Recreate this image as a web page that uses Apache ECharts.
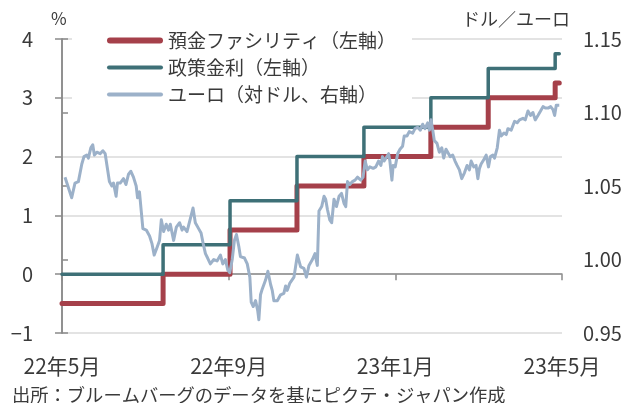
<!DOCTYPE html>
<html>
<head>
<meta charset="utf-8">
<script src="https://cdn.jsdelivr.net/npm/echarts@6/dist/echarts.min.js"></script>
<style>
html,body{margin:0;padding:0;background:#fff;}
#chart{width:628px;height:403px;}
</style>
</head>
<body>
<div id="chart"></div>
<script>
// ---- data ----
// x values are day numbers counted from 2022-05-14 (day 0) to 2023-05-15 (day 366)
const xTickLabels = ['22年5月', '22年9月', '23年1月', '23年5月'];
const seriesNames = ['預金ファシリティ（左軸）', '政策金利（左軸）', 'ユーロ（対ドル、右軸）'];
const leftTicks = [-1, 0, 1, 2, 3, 4];
const rightTicks = [0.95, 1.00, 1.05, 1.10, 1.15];

const rateDays = [0, 74, 123, 172, 221, 270, 312, 361, 364];
const depositRate = [-0.5, 0, 0.75, 1.5, 2.0, 2.5, 3.0, 3.25, 3.25];
const policyRate = [0, 0.5, 1.25, 2.0, 2.5, 3.0, 3.5, 3.75, 3.75];

const euroDays = [
  2.2,7.1,8.3,9.5,12.0,14.5,16.1,18.1,19.3,21.1,
  22.5,23.7,25.5,27.9,29.9,31.6,32.8,34.7,36.5,37.7,
  39.6,40.6,42.6,45.0,46.8,48.7,50.4,52.3,54.3,55.3,
  56.7,57.8,59.2,61.7,64.1,65.8,67.5,69.5,71.4,72.7,
  74.4,76.3,78.0,79.3,81.7,83.7,86.1,87.9,89.0,91.5,
  94.0,95.9,97.6,100.0,101.8,103.3,105.0,106.6,108.6,111.1,
  113.5,116.0,117.7,119.6,121.3,122.8,124.6,126.2,127.7,129.4,
  130.6,131.9,133.6,135.6,137.5,138.5,140.0,141.7,143.3,144.1,
  145.3,146.6,149.0,150.7,152.7,153.9,155.1,157.6,160.0,162.4,
  163.7,164.9,166.8,169.8,172.3,174.7,177.1,178.9,180.8,183.3,
  185.2,186.9,188.1,190.1,191.8,193.0,194.3,196.0,197.4,199.1,
  200.9,202.8,204.6,206.5,207.7,209.0,210.7,212.6,214.5,216.3,
  218.7,220.4,221.9,223.6,225.3,227.8,229.7,231.7,233.4,234.6,
  235.8,237.1,239.1,240.0,241.5,242.4,243.9,245.7,247.4,249.3,
  250.5,252.5,254.2,256.7,258.4,260.3,262.3,264.0,265.7,267.7,
  268.9,270.1,271.4,272.5,274.5,276.2,278.0,279.4,281.1,282.4,
  284.1,286.0,287.7,289.2,290.9,292.6,294.6,296.5,298.2,299.5,
  301.4,303.1,304.4,305.6,306.8,308.8,310.5,312.2,313.6,315.4,
  316.6,318.6,320.2,321.5,323.5,325.2,326.4,328.8,331.3,333.2,
  334.9,337.4,339.1,341.1,343.0,344.7,346.4,348.4,350.3,352.1,
  353.8,355.8,357.7,359.4,360.6,361.8,363.0,364.0
];
const euroValues = [
  1.056,1.042,1.043,1.052,1.053,1.065,1.070,1.071,1.069,1.076,
  1.078,1.071,1.073,1.072,1.074,1.072,1.073,1.053,1.050,1.052,
  1.043,1.052,1.052,1.055,1.051,1.058,1.060,1.056,1.050,1.042,
  1.046,1.045,1.021,1.020,1.016,1.011,1.003,1.008,1.013,1.027,
  1.019,1.024,1.020,1.024,1.013,1.022,1.025,1.020,1.022,1.019,
  1.028,1.035,1.025,1.021,1.018,1.011,1.004,1.001,0.997,1.000,
  0.999,1.003,0.997,1.000,0.993,0.991,1.000,1.013,1.017,1.009,
  1.002,1.001,1.001,0.997,0.988,0.971,0.968,0.972,0.965,0.959,
  0.976,0.980,0.986,0.992,0.983,0.979,0.972,0.972,0.976,0.977,
  0.982,0.979,0.984,0.988,1.003,0.995,0.994,0.988,0.996,1.000,
  1.004,0.996,1.033,1.036,1.043,1.041,1.034,1.027,1.025,1.041,
  1.036,1.043,1.045,1.038,1.036,1.053,1.051,1.053,1.054,1.056,
  1.054,1.056,1.067,1.061,1.063,1.062,1.063,1.067,1.064,1.070,
  1.067,1.068,1.072,1.067,1.054,1.064,1.063,1.072,1.075,1.077,
  1.084,1.084,1.087,1.086,1.089,1.090,1.088,1.092,1.089,1.093,
  1.088,1.095,1.088,1.081,1.079,1.073,1.076,1.069,1.075,1.076,
  1.070,1.071,1.067,1.064,1.061,1.055,1.059,1.064,1.061,1.067,
  1.063,1.064,1.055,1.062,1.065,1.068,1.071,1.063,1.070,1.071,
  1.069,1.076,1.088,1.084,1.086,1.085,1.089,1.088,1.094,1.093,
  1.095,1.096,1.095,1.101,1.098,1.100,1.095,1.098,1.101,1.104,
  1.103,1.103,1.104,1.102,1.098,1.105,1.104,1.105
];

// ---- chart ----
const FONT = '"Noto Sans CJK JP", "Noto Sans", sans-serif';
const TXT = '#3a3a3a';
const AXIS = '#8a8a8a';
const COLORS = ['#a5404a', '#3e7077', '#9cb1c9'];
const zip = (xs, ys) => xs.map((x, i) => [x, ys[i]]);

const chart = echarts.init(document.getElementById('chart'), null, {renderer: 'canvas'});
chart.setOption({
  animation: false,
  backgroundColor: '#fff',
  textStyle: {fontFamily: FONT},
  grid: {left: 62, right: 66, top: 39, bottom: 70},
  legend: {
    orient: 'vertical', left: 72, top: 25,
    padding: [6, 16, 4, 35],
    backgroundColor: '#fff',
    itemWidth: 56, itemHeight: 14, itemGap: 8,
    symbolKeepAspect: true,
    textStyle: {fontSize: 19, color: TXT, fontFamily: FONT},
    data: [
      {name: seriesNames[0], icon: 'path://M3,0H53A3,3 0 0 1 53,6H3A3,3 0 0 1 3,0Z', itemStyle: {color: COLORS[0]}},
      {name: seriesNames[1], icon: 'path://M2,0H54A2,2 0 0 1 54,4H2A2,2 0 0 1 2,0Z', itemStyle: {color: COLORS[1]}},
      {name: seriesNames[2], icon: 'path://M2,0H54A2,2 0 0 1 54,4H2A2,2 0 0 1 2,0Z', itemStyle: {color: COLORS[2]}}
    ]
  },
  xAxis: [{
    type: 'value', min: 0, max: 366, interval: 122,
    axisLine: {show: true, onZero: true, onZeroAxisIndex: 0, lineStyle: {color: AXIS, width: 1.5}},
    axisTick: {show: true, inside: false, length: 6, lineStyle: {color: AXIS, width: 1.5}},
    axisLabel: {show: false},
    splitLine: {show: false}
  }, {
    type: 'value', min: 0, max: 366, interval: 122, position: 'bottom',
    axisLine: {show: false}, axisTick: {show: false}, splitLine: {show: false},
    axisLabel: {
      show: true, margin: 23, fontSize: 21, color: TXT, fontFamily: FONT,
      showMinLabel: true, showMaxLabel: true,
      formatter: (v) => xTickLabels[Math.round(v / 122)] || ''
    }
  }],
  yAxis: [{
    type: 'value', min: leftTicks[0], max: leftTicks[leftTicks.length - 1], interval: 1,
    position: 'left',
    axisLine: {show: true, lineStyle: {color: AXIS, width: 1.5}},
    axisTick: {show: true, inside: false, length: 7, lineStyle: {color: AXIS, width: 1.5}},
    axisLabel: {margin: 29, fontSize: 20, color: TXT, fontFamily: FONT,
      formatter: v => String(v).replace('-', '−')},
    splitLine: {show: true, lineStyle: {color: '#dadada', width: 1.5}}
  }, {
    type: 'value', min: rightTicks[0], max: rightTicks[rightTicks.length - 1], interval: 0.05,
    position: 'right',
    axisLine: {show: true, lineStyle: {color: AXIS, width: 1.5}},
    axisTick: {show: true, inside: false, length: 6, lineStyle: {color: AXIS, width: 1.5}},
    axisLabel: {margin: 21, fontSize: 20, color: TXT, fontFamily: FONT,
      formatter: v => v.toFixed(2)},
    splitLine: {show: false}
  }],
  graphic: [
    {type: 'text', left: 51, top: 10, style: {text: '%', font: '17px ' + FONT, fill: TXT}},
    {type: 'text', right: 58, top: 10, style: {text: 'ドル／ユーロ', font: '18px ' + FONT, fill: TXT}},
    {type: 'text', left: 12, top: 386, style: {text: '出所：ブルームバーグのデータを基にピクテ・ジャパン作成', font: '18.3px ' + FONT, fill: TXT}}
  ],
  series: [{
    name: seriesNames[0], type: 'line', step: 'end', symbol: 'none',
    xAxisIndex: 0, yAxisIndex: 0,
    lineStyle: {color: COLORS[0], width: 5, cap: 'round', join: 'round'},
    itemStyle: {color: COLORS[0]},
    data: zip(rateDays, depositRate)
  }, {
    name: seriesNames[1], type: 'line', step: 'end', symbol: 'none',
    xAxisIndex: 0, yAxisIndex: 0,
    lineStyle: {color: COLORS[1], width: 3.5, cap: 'round', join: 'round'},
    itemStyle: {color: COLORS[1]},
    data: zip(rateDays, policyRate)
  }, {
    name: seriesNames[2], type: 'line', symbol: 'none',
    xAxisIndex: 0, yAxisIndex: 1,
    lineStyle: {color: COLORS[2], width: 3, join: 'round'},
    itemStyle: {color: COLORS[2]},
    data: zip(euroDays, euroValues)
  }]
});
</script>
</body>
</html>
